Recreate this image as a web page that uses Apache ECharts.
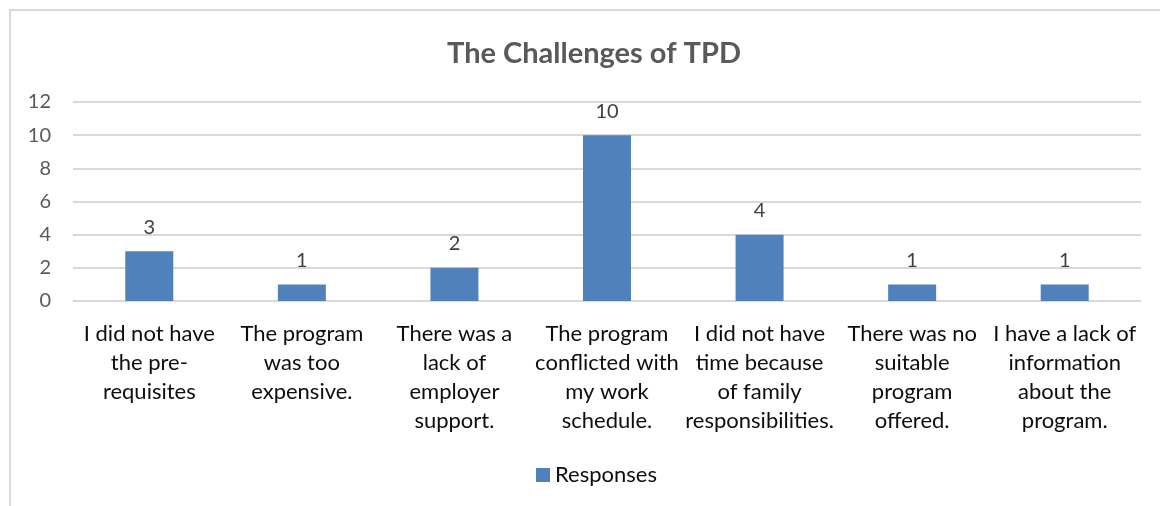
<!DOCTYPE html>
<html>
<head>
<meta charset="utf-8">
<script src="https://cdn.jsdelivr.net/npm/echarts@6/dist/echarts.min.js"></script>
<style>
  html, body { margin: 0; padding: 0; background: #fff; }
  #frame { position: absolute; left: 9px; top: 9px; width: 1200px; height: 600px; border-left: 2px solid #d9d9d9; border-top: 2px solid #d9d9d9; }
  #chart { position: absolute; left: 0; top: 0; width: 1160px; height: 506px; }
</style>
</head>
<body>
<div id="frame"></div>
<div id="chart"></div>
<script>
// The Challenges of TPD — responses per challenge
const categories = [
  'I did not have\nthe pre-\nrequisites',
  'The program\nwas too\nexpensive.',
  'There was a\nlack of\nemployer\nsupport.',
  'The program\nconflicted with\nmy work\nschedule.',
  'I did not have\ntime because\nof family\nresponsibilities.',
  'There was no\nsuitable\nprogram\noffered.',
  'I have a lack of\ninformation\nabout the\nprogram.',
]
const responses = [3, 1, 2, 10, 4, 1, 1]
const yTicks = { min: 0, max: 12, interval: 2 }

const font = 'Lato, "Open Sans", sans-serif'
const chart = echarts.init(document.getElementById('chart'), null, { renderer: 'canvas' })

chart.setOption({
  backgroundColor: 'transparent',
  animation: false,
  title: {
    text: 'The Challenges of TPD',
    left: 442, top: 34,
    textStyle: { color: '#595959', fontSize: 29, fontWeight: 'bold', fontFamily: font },
  },
  grid: { left: 73, right: 19, top: 102, height: 199 },
  legend: {
    bottom: 15, left: 531,
    icon: 'rect', itemWidth: 14, itemHeight: 14, itemGap: 6,
    textStyle: { color: '#0d0d0d', fontSize: 22, fontFamily: font },
  },
  xAxis: {
    type: 'category', data: categories,
    axisLine: { show: false }, axisTick: { show: false },
    axisLabel: { color: '#0d0d0d', fontSize: 22, fontFamily: font, lineHeight: 29, margin: 18, interval: 0 },
  },
  yAxis: {
    type: 'value', ...yTicks,
    axisLabel: { color: '#595959', fontSize: 20, fontFamily: font, margin: 22 },
    splitLine: { lineStyle: { color: '#d9d9d9', width: 2 } },
  },
  series: [{
    name: 'Responses', type: 'bar', data: responses,
    barWidth: 48,
    itemStyle: { color: '#4f81bd' },
    label: { show: true, position: 'top', distance: 14, color: '#404040', fontSize: 20, fontFamily: font },
  }],
})
</script>
</body>
</html>
